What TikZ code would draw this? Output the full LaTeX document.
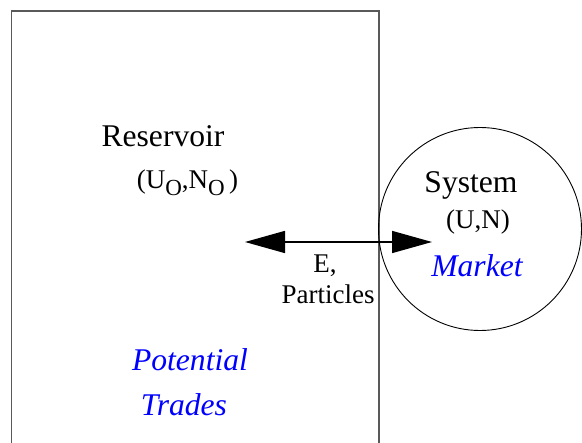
\documentclass[tikz,border=0pt]{standalone}
\usepackage{fontspec}
\setmainfont{Liberation Serif}
\usepackage{xcolor}
\usetikzlibrary{arrows.meta,shapes}
\newcommand{\bigtxt}{\rmfamily\fontsize{31.6}{34}\selectfont}
\newcommand{\smalltxt}{\rmfamily\fontsize{27}{30}\selectfont}
\newcommand{\lowo}{\raisebox{-7pt}{\fontsize{23}{23}\selectfont O}}

\begin{document}
\begin{tikzpicture}[x=1pt,y=-1pt,
    lbl/.style={inner sep=0pt, anchor=base},
    trade/.style={lbl, text=blue, font=\bigtxt\itshape}]
    %\draw[help lines] (0,0) grid (582,443);
        \useasboundingbox (0,0) rectangle (582,443);
        % reservoir box
        \draw[gray!70!black, line width=1.5pt] (11.5,11) rectangle (379,470);
        % system circle
        \node[draw, circle, line width=0.9pt, minimum size=203pt, inner sep=0pt] (sys) at (480,229) {};

        \node[lbl, font=\bigtxt] (res) at (163,147) {Reservoir};
        \node[lbl, font=\smalltxt] (resuv) at (187.5,189) {(U\lowo,N\lowo\,)};
        \node[lbl, font=\bigtxt] (systxt) at (471,193) {System};
        \node[lbl, font=\smalltxt] (sysuv) at (478,229) {(U,N)};
        \node[lbl, font=\smalltxt] (e) at (325,273) {E,};
        \node[lbl, font=\smalltxt] (part) at (328,304) {Particles};
        \node[trade] (mkt) at (477,277) {Market};
        \node[trade] (pot) at (190,371) {Potential};
        \node[trade] (trd) at (184,416) {Trades};

        \coordinate (eleft) at (245,242);
        \coordinate (eright) at (432,242);
        \draw[line width=1.5pt, {Triangle[length=40pt,width=22pt]}-{Triangle[length=40pt,width=22pt]}] (eleft) -- (eright);
\end{tikzpicture}
\end{document}
